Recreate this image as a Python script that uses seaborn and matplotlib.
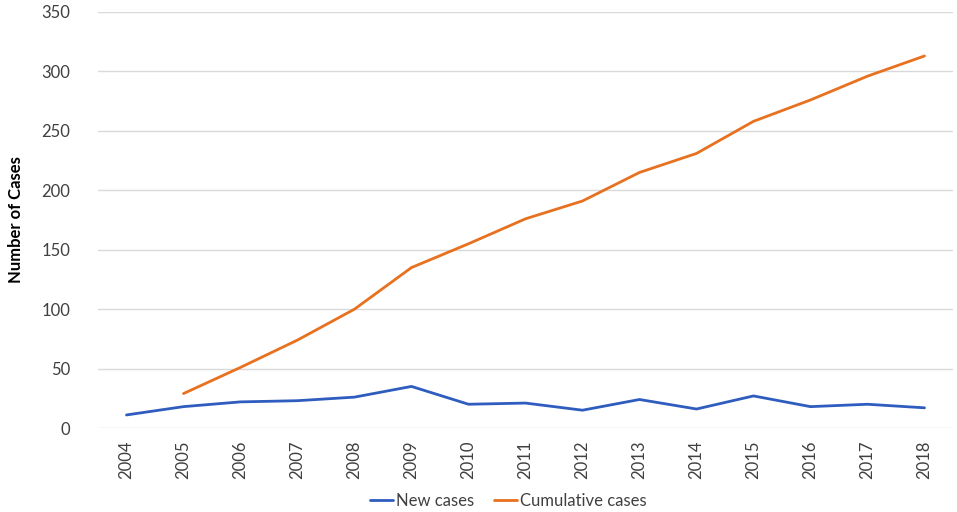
import numpy as np
import pandas as pd
import matplotlib
matplotlib.use('Agg')
import matplotlib.pyplot as plt
import seaborn as sns

# Data
years = list(range(2004, 2019))
new_cases = [11, 18, 22, 23, 26, 35, 20, 21, 15, 24, 16, 27, 18, 20, 17]
cumulative_cases = [np.nan, 29, 51, 74, 100, 135, 155, 176, 191, 215, 231, 258, 276, 296, 313]

df = pd.DataFrame({
    'Year': years * 2,
    'Cases': new_cases + cumulative_cases,
    'Series': ['New cases'] * len(years) + ['Cumulative cases'] * len(years),
})

sns.set_style('white')
plt.rcParams['font.family'] = ['Lato', 'DejaVu Sans']

fig = plt.figure(figsize=(9.57, 5.12), dpi=100)
ax = fig.add_axes([0.1024, 0.164, 0.8934, 0.8126])

sns.lineplot(data=df, x='Year', y='Cases', hue='Series',
             palette={'New cases': '#2F5CBF', 'Cumulative cases': '#E8711F'},
             linewidth=2, ax=ax, legend=False)

ax.set_xlim(2003.5, 2018.5)
ax.set_ylim(0, 350)
ax.set_xticks(years)
ax.set_xticklabels([str(y) for y in years], rotation=90)
ax.set_yticks(range(0, 351, 50))
ax.tick_params(axis='both', labelsize=12, colors='#404040', length=0)
ax.tick_params(axis='x', pad=9)
ax.tick_params(axis='y', pad=20)
ax.grid(axis='y', color='#D9D9D9', linewidth=1)
ax.set_axisbelow(True)
for s in ax.spines.values():
    s.set_visible(False)

ax.set_xlabel('')
ax.set_ylabel('Number of Cases', fontsize=12, fontweight='bold', color='black')
ax.yaxis.set_label_coords(-0.086, 0.5)

handles = [plt.Line2D([], [], color='#2F5CBF', linewidth=2),
           plt.Line2D([], [], color='#E8711F', linewidth=2)]
fig.legend(handles, ['New cases', 'Cumulative cases'], loc='center',
           bbox_to_anchor=(0.531, 0.021), ncol=2, frameon=False,
           fontsize=12, handlelength=1.4, handletextpad=0.15, columnspacing=1.2,
           labelcolor='#404040', borderpad=0)

fig.savefig('out.png', dpi=100)
